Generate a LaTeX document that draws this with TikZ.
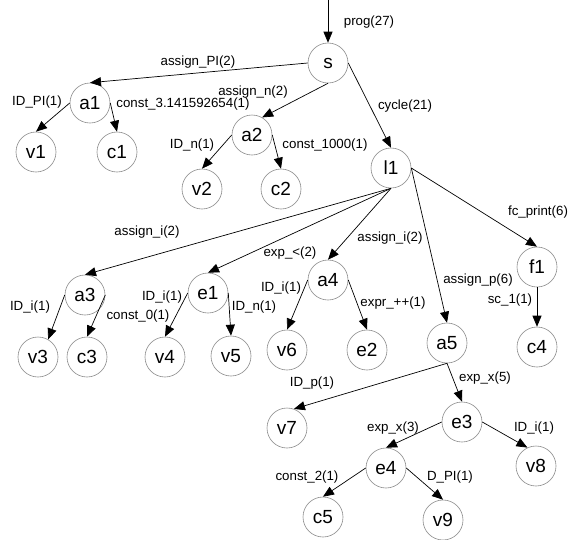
\documentclass[tikz,border=0pt]{standalone}
\usepackage{fontspec}
\setmainfont{Liberation Sans}
\usetikzlibrary{arrows.meta}
\begin{document}
\begin{tikzpicture}[x=1pt,y=-1pt,
 st/.style={circle,draw=black!45,line width=0.6pt,minimum size=40pt,inner sep=0pt,font=\fontsize{19}{19}\selectfont},
 lab/.style={inner sep=0pt,font=\fontsize{13.3}{14}\selectfont},
 ed/.style={-{Triangle[length=11pt,width=9pt]},line width=0.7pt}]
\useasboundingbox[fill=white] (0,0) rectangle (571,539);
% nodes
\node[st] (s) at (328,63) {s};
\node[st] (a1) at (90,103) {a1};
\node[st] (v1) at (36,152) {v1};
\node[st] (c1) at (117,152) {c1};
\node[st] (a2) at (252,135) {a2};
\node[st] (v2) at (202,189) {v2};
\node[st] (c2) at (281,189) {c2};
\node[st] (l1) at (391,168) {l1};
\node[st] (a3) at (85,295) {a3};
\node[st] (e1) at (208,293) {e1};
\node[st] (a4) at (328,280) {a4};
\node[st] (a5) at (447,343) {a5};
\node[st] (f1) at (537,267) {f1};
\node[st] (v3) at (38,357) {v3};
\node[st] (c3) at (87,357) {c3};
\node[st] (v4) at (165,357) {v4};
\node[st] (v5) at (231,356) {v5};
\node[st] (v6) at (287,350) {v6};
\node[st] (e2) at (367,350) {e2};
\node[st] (c4) at (537,347) {c4};
\node[st] (v7) at (287,428) {v7};
\node[st] (e3) at (462,422) {e3};
\node[st] (v8) at (536,466) {v8};
\node[st] (e4) at (386,468) {e4};
\node[st] (c5) at (323,517) {c5};
\node[st] (v9) at (443,520) {v9};
\coordinate (top) at (328,0);
% edges
\draw[ed] (top) -- (s.north);
\draw[ed] (s.west) -- (a1.north);
\draw[ed] (s.south) -- (a2.60);
\draw[ed] (s.east) -- (l1.north);
\draw[ed] (a1.west) -- (v1.north);
\draw[ed] (a1.east) -- (c1.north);
\draw[ed] (a2.west) -- (v2.north);
\draw[ed] (a2.east) -- (c2.north);
\draw[ed] (l1.south) -- (a3.north);
\draw[ed] (l1.south) -- (e1.north);
\draw[ed] (l1.south) -- (a4.north);
\draw[ed] (l1.east) -- (a5.north);
\draw[ed] (l1.east) -- (f1.north);
\draw[ed] (a3.west) -- (v3.60);
\draw[ed] (a3.east) -- (c3.north);
\draw[ed] (e1.west) -- (v4.north);
\draw[ed] (e1.east) -- (v5.north);
\draw[ed] (a4.west) -- (v6.north);
\draw[ed] (a4.east) -- (e2.north);
\draw[ed] (f1.south) -- (c4.north);
\draw[ed] (a5.south) -- (v7.70);
\draw[ed] (a5.south) -- (e3.north);
\draw[ed] (e3.west) -- (e4.north);
\draw[ed] (e3.east) -- (v8.115);
\draw[ed] (e4.west) -- (c5.north);
\draw[ed] (e4.east) -- (v9.north);
% edge labels
\node[lab] (lprog) at (369,22) {prog(27)};
\node[lab] (lapi) at (198,62) {assign\_PI(2)};
\node[lab] (lan) at (253,92) {assign\_n(2)};
\node[lab] (lcyc) at (405,106) {cycle(21)};
\node[lab] (lidpi) at (37,102) {ID\_PI(1)};
\node[lab] (lcpi) at (183,104) {const\_3.141592654(1)};
\node[lab] (lidn) at (192,145) {ID\_n(1)};
\node[lab] (lc1000) at (325,145) {const\_1000(1)};
\node[lab] (lai1) at (147,232) {assign\_i(2)};
\node[lab] (lexpl) at (290,253) {exp\_<(2)};
\node[lab] (lai2) at (390,238) {assign\_i(2)};
\node[lab] (lap) at (478,280) {assign\_p(6)};
\node[lab] (lfc) at (538,212) {fc\_print(6)};
\node[lab] (lidi4) at (281,288) {ID\_i(1)};
\node[lab] (lexpr) at (393,303) {expr\_++(1)};
\node[lab] (lsc) at (510,300) {sc\_1(1)};
\node[lab] (lidi3) at (30,307) {ID\_i(1)};
\node[lab] (lidie) at (162,297) {ID\_i(1)};
\node[lab] (lc0) at (138,316) {const\_0(1)};
\node[lab] (lidne) at (254,307) {ID\_n(1)};
\node[lab] (lidp) at (312,383) {ID\_p(1)};
\node[lab] (lex5) at (485,378) {exp\_x(5)};
\node[lab] (lex3) at (393,428) {exp\_x(3)};
\node[lab] (lidi8) at (534,428) {ID\_i(1)};
\node[lab] (lc2) at (307,477) {const\_2(1)};
\node[lab] (ldpi) at (450,477) {D\_PI(1)};
\end{tikzpicture}
\end{document}
